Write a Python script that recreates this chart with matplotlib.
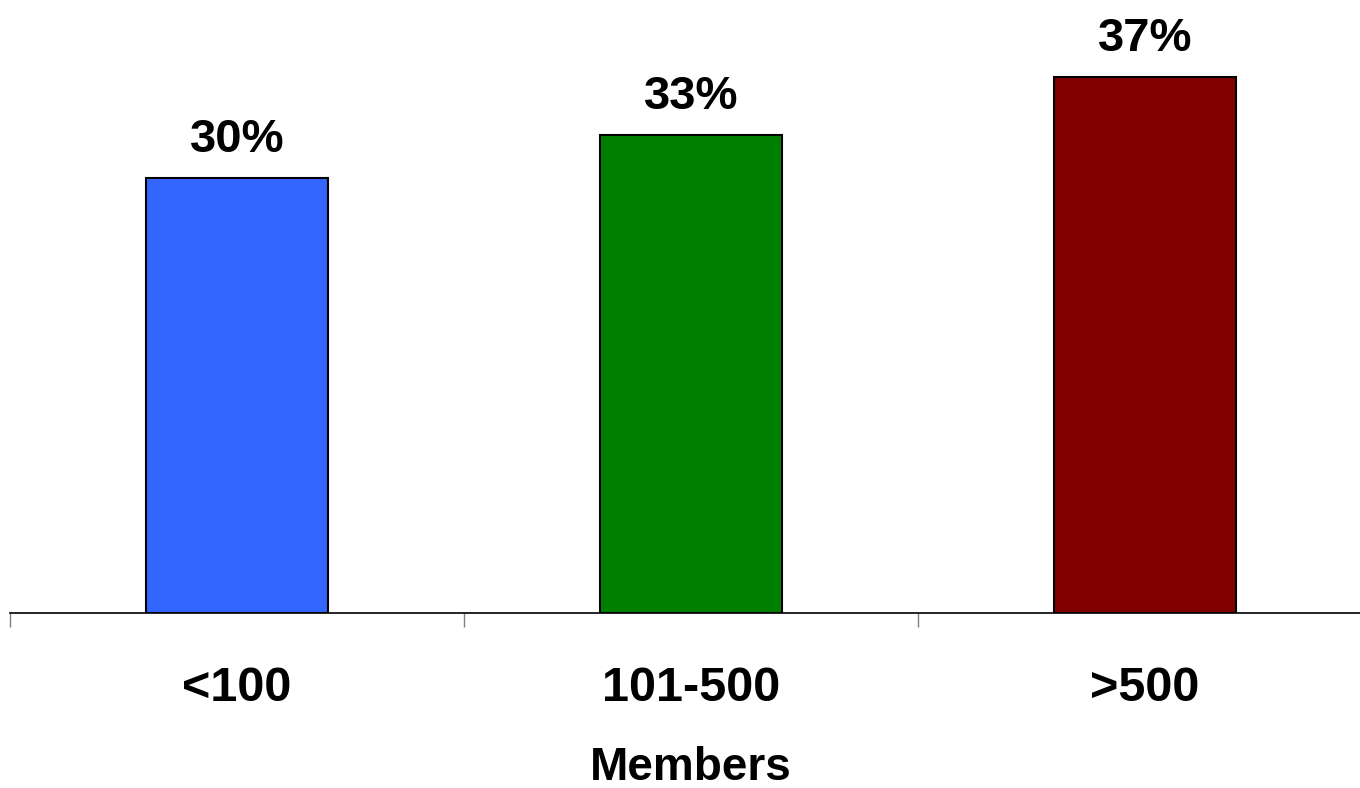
import numpy as np
from matplotlib import pyplot as plt

plt.rcParams['font.family'] = ['Liberation Sans', 'DejaVu Sans']

categories = ['<100', '101-500', '>500']
values = [30, 33, 37]
labels = ['30%', '33%', '37%']
colors = ['#3366FF', '#008000', '#800000']

fig = plt.figure(figsize=(13.6, 7.88), dpi=100)
ax = fig.add_axes([10 / 1360, 175 / 788, 1362 / 1360, 613 / 788])

x = np.arange(len(categories))
bars = ax.bar(x, values, width=0.4, color=colors, edgecolor='black', linewidth=1.5)

for b, lab in zip(bars, labels):
    ax.text(b.get_x() + b.get_width() / 2, b.get_height() + 1.1, lab,
            ha='center', va='bottom', fontsize=34, fontweight='bold')

ax.set_xlim(-0.5, 2.5)
ax.set_ylim(0, 42.3)

for s in ['left', 'right', 'top']:
    ax.spines[s].set_visible(False)
ax.spines['bottom'].set_linewidth(1.2)

ax.set_yticks([])
ax.set_xticks(x)
ax.set_xticklabels(categories, fontsize=35, fontweight='bold')
ax.tick_params(axis='x', which='major', length=0, pad=38)
ax.set_xticks([-0.5, 0.5, 1.5, 2.5], minor=True)
ax.tick_params(axis='x', which='minor', length=10, width=1, color='#808080')

ax.set_xlabel('Members', fontsize=33, fontweight='bold', labelpad=25)

fig.savefig('out.png', dpi=100)
